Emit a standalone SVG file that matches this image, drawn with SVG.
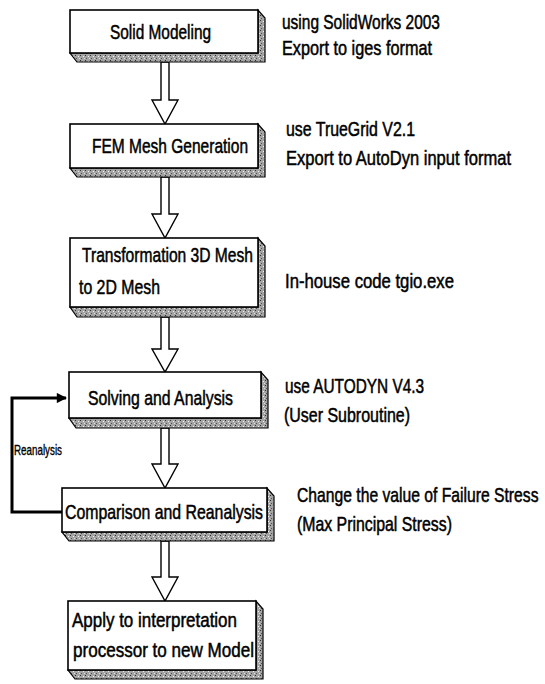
<svg xmlns="http://www.w3.org/2000/svg" width="545" height="684" viewBox="0 0 545 684">
<defs>
<pattern id="stip" width="5" height="5" patternUnits="userSpaceOnUse">
<rect width="5" height="5" fill="#a4a4a4"/>
<rect x="0" y="0" width="1" height="1" fill="#303030"/>
<rect x="3" y="1" width="1" height="1" fill="#f4f4f4"/>
<rect x="1" y="3" width="1" height="1" fill="#505050"/>
<rect x="4" y="3" width="1" height="1" fill="#e0e0e0"/>
</pattern>
<marker id="ah" viewBox="0 0 10 10" refX="9" refY="5" markerWidth="4" markerHeight="3.4" orient="auto" markerUnits="strokeWidth">
<path d="M0,0 L10,5 L0,10 z" fill="#000"/>
</marker>
<style>
.face{fill:#ffffff;stroke:#000;stroke-width:1.6}
.arr{fill:#fff;stroke:#000;stroke-width:1.4;stroke-linejoin:miter}
.t{font-family:"Liberation Sans",Arial,sans-serif;font-size:20px;fill:#000;stroke:#000;stroke-width:0.5}
.s{font-family:"Liberation Sans",Arial,sans-serif;font-size:14px;fill:#000;stroke:#000;stroke-width:0.35}
.fb{fill:none;stroke:#000;stroke-width:3}
</style>
</defs>

<g id="connectors">
<polygon class="arr" points="161,62 161,100 152,100 165,124 178,100 169,100 169,62"/>
<polygon class="arr" points="161,177 161,214 152,214 165,238 178,214 169,214 169,177"/>
<polygon class="arr" points="161,317 161,349 152,349 165,372 178,349 169,349 169,317"/>
<polygon class="arr" points="161,428 161,464 152,464 165,488 178,464 169,464 169,428"/>
<polygon class="arr" points="161,541 161,577 152,577 165,601 178,577 169,577 169,541"/>
<polyline class="fb" points="62,512 12,512 12,398 66,398" marker-end="url(#ah)"/>
<text class="s" transform="translate(14,455) scale(0.7,1)" textLength="68.6" lengthAdjust="spacingAndGlyphs">Reanalysis</text>
</g>

<g id="n1">
<path fill="url(#stip)" stroke="#000" stroke-width="1.2" d="M70,53 L258,53 L258,10 L265,18 L265,62 L77,62 Z"/>
<rect class="face" x="70" y="10" width="188" height="43"/>
<text class="t" transform="translate(110,39) scale(0.7,1)" textLength="144.3" lengthAdjust="spacingAndGlyphs">Solid Modeling</text>
</g>
<g id="n1note">
<text class="t" transform="translate(282,29) scale(0.7,1)" textLength="225.7" lengthAdjust="spacingAndGlyphs">using SolidWorks 2003</text>
<text class="t" transform="translate(282,55) scale(0.7,1)" textLength="214.3" lengthAdjust="spacingAndGlyphs">Export to iges format</text>
</g>

<g id="n2">
<path fill="url(#stip)" stroke="#000" stroke-width="1.2" d="M70,168 L258,168 L258,124 L265,132 L265,177 L77,177 Z"/>
<rect class="face" x="70" y="124" width="188" height="44"/>
<text class="t" transform="translate(92,153) scale(0.7,1)" textLength="222.9" lengthAdjust="spacingAndGlyphs">FEM Mesh Generation</text>
</g>
<g id="n2note">
<text class="t" transform="translate(286,136) scale(0.7,1)" textLength="184.3" lengthAdjust="spacingAndGlyphs">use TrueGrid V2.1</text>
<text class="t" transform="translate(286,165) scale(0.7,1)" textLength="321.4" lengthAdjust="spacingAndGlyphs">Export to AutoDyn input format</text>
</g>

<g id="n3">
<path fill="url(#stip)" stroke="#000" stroke-width="1.2" d="M70,307 L258,307 L258,238 L265,246 L265,317 L77,317 Z"/>
<rect class="face" x="70" y="238" width="188" height="69"/>
<text class="t" transform="translate(82,262) scale(0.7,1)" textLength="244.3" lengthAdjust="spacingAndGlyphs">Transformation 3D Mesh</text>
<text class="t" transform="translate(79,294) scale(0.7,1)" textLength="115.7" lengthAdjust="spacingAndGlyphs">to 2D Mesh</text>
</g>
<g id="n3note">
<text class="t" transform="translate(285,288) scale(0.7,1)" textLength="241.4" lengthAdjust="spacingAndGlyphs">In-house code tgio.exe</text>
</g>

<g id="n4">
<path fill="url(#stip)" stroke="#000" stroke-width="1.2" d="M69,418 L261,418 L261,372 L268,380 L268,428 L76,428 Z"/>
<rect class="face" x="69" y="372" width="192" height="46"/>
<text class="t" transform="translate(88,405) scale(0.7,1)" textLength="207.1" lengthAdjust="spacingAndGlyphs">Solving and Analysis</text>
</g>
<g id="n4note">
<text class="t" transform="translate(285,393) scale(0.7,1)" textLength="198.6" lengthAdjust="spacingAndGlyphs">use AUTODYN V4.3</text>
<text class="t" transform="translate(284,422) scale(0.7,1)" textLength="180" lengthAdjust="spacingAndGlyphs">(User Subroutine)</text>
</g>

<g id="n5">
<path fill="url(#stip)" stroke="#000" stroke-width="1.2" d="M62,532 L267,532 L267,488 L274,496 L274,541 L69,541 Z"/>
<rect class="face" x="62" y="488" width="205" height="44"/>
<text class="t" transform="translate(65,519) scale(0.7,1)" textLength="282.9" lengthAdjust="spacingAndGlyphs">Comparison and Reanalysis</text>
</g>
<g id="n5note">
<text class="t" transform="translate(297,502) scale(0.7,1)" textLength="345" lengthAdjust="spacingAndGlyphs">Change the value of Failure Stress</text>
<text class="t" transform="translate(297,531) scale(0.7,1)" textLength="221.4" lengthAdjust="spacingAndGlyphs">(Max Principal Stress)</text>
</g>

<g id="n6">
<path fill="url(#stip)" stroke="#000" stroke-width="1.2" d="M68,670 L256,670 L256,601 L263,609 L263,679 L75,679 Z"/>
<rect class="face" x="68" y="601" width="188" height="69"/>
<text class="t" transform="translate(72,627) scale(0.7,1)" textLength="235.7" lengthAdjust="spacingAndGlyphs">Apply to interpretation</text>
<text class="t" transform="translate(73,657) scale(0.7,1)" textLength="258.6" lengthAdjust="spacingAndGlyphs">processor to new Model</text>
</g>
</svg>
